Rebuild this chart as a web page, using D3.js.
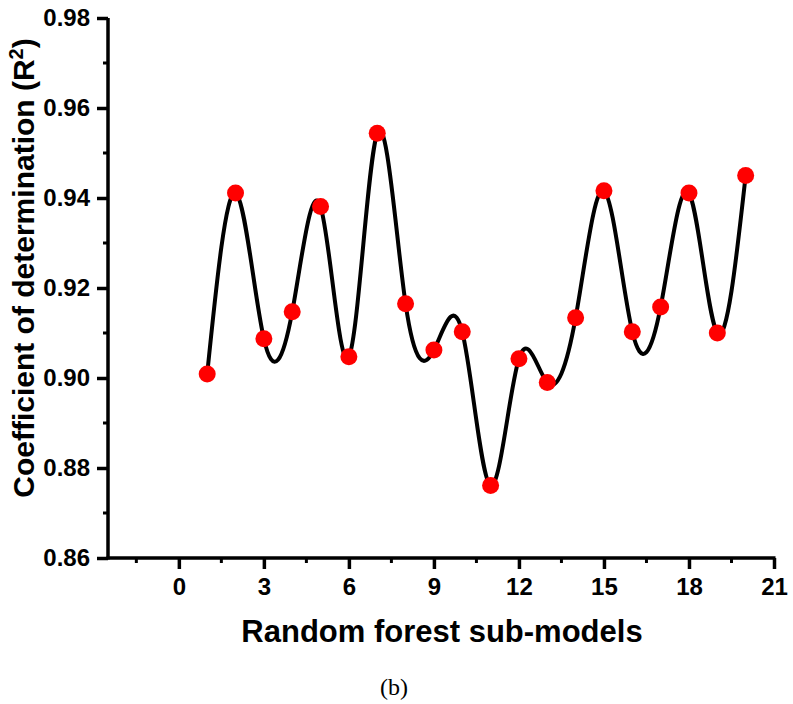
<!DOCTYPE html>
<html>
<head>
<meta charset="utf-8">
<script src="https://cdn.jsdelivr.net/npm/d3@7"></script>
<style>
  html, body { margin: 0; padding: 0; background: #fff; }
  svg { display: block; }
</style>
</head>
<body>
<svg id="chart" width="793" height="704"></svg>
<script>
// ---- data ----
const subModels = [1,2,3,4,5,6,7,8,9,10,11,12,13,14,15,16,17,18,19,20];
const r2Values = [0.9009,0.9411,0.9087,0.9147,0.9381,0.9047,0.9544,0.9165,0.9062,0.9103,
                  0.8761,0.9043,0.8990,0.9134,0.9416,0.9103,0.9158,0.9411,0.9100,0.9450];
const xTicks = [0,3,6,9,12,15,18,21];
const xMinorTicks = [-1.5,1.5,4.5,7.5,10.5,13.5,16.5,19.5];
const yTicks = [0.86,0.88,0.90,0.92,0.94,0.96,0.98];
const yMinorTicks = [0.87,0.89,0.91,0.93,0.95,0.97];
const xTitle = "Random forest sub-models";
const yTitle = "Coefficient of determination (R";
const caption = "(b)";

// ---- layout ----
const svg = d3.select("#chart");
const pLeft = 108, pRight = 774, pTop = 18, pBottom = 558;
const x = d3.scaleLinear().domain([-2.5, 21]).range([pLeft, pRight]);
const y = d3.scaleLinear().domain([0.86, 0.98]).range([pBottom, pTop]);
const font = "'Liberation Sans', Arial, sans-serif";

// x axis
const xAxis = svg.append("g").attr("transform", `translate(0,${pBottom})`);
xAxis.call(d3.axisBottom(x).tickValues(xTicks).tickFormat(d3.format("d")).tickSizeOuter(0).tickSize(11).tickPadding(9));
xAxis.append("g").selectAll("line").data(xMinorTicks).join("line")
  .attr("x1", d => x(d)).attr("x2", d => x(d)).attr("y1", 0).attr("y2", 5)
  .attr("stroke", "#000").attr("stroke-width", 3);

// y axis
const yAxis = svg.append("g").attr("transform", `translate(${pLeft},0)`);
yAxis.call(d3.axisLeft(y).tickValues(yTicks).tickFormat(d3.format(".2f")).tickSizeOuter(0).tickSize(11).tickPadding(7));
yAxis.append("g").selectAll("line").data(yMinorTicks).join("line")
  .attr("y1", d => y(d)).attr("y2", d => y(d)).attr("x1", 0).attr("x2", -5)
  .attr("stroke", "#000").attr("stroke-width", 3);

// style axes
svg.selectAll(".domain").attr("stroke", "#000").attr("stroke-width", 3.5);
svg.selectAll(".tick line").attr("stroke", "#000").attr("stroke-width", 3.5);
svg.selectAll(".tick text").attr("fill", "#000").style("font-family", font)
  .style("font-size", "24px").style("font-weight", "bold");
xAxis.select(".domain").attr("d", `M${pLeft - 1.5},0H${pRight + 1.5}`);
yAxis.select(".domain").attr("d", `M0,${pTop}V${pBottom + 1.5}`);

// smooth curve
const line = d3.line()
  .x((d, i) => x(subModels[i]))
  .y(d => y(d))
  .curve(d3.curveNatural);
svg.append("path").datum(r2Values)
  .attr("d", line).attr("fill", "none")
  .attr("stroke", "#000").attr("stroke-width", 4);

// points
svg.append("g").selectAll("circle").data(r2Values).join("circle")
  .attr("cx", (d, i) => x(subModels[i])).attr("cy", d => y(d))
  .attr("r", 8.5).attr("fill", "#ff0000");

// titles
svg.append("text").attr("x", 442).attr("y", 642)
  .attr("text-anchor", "middle").style("font-family", font)
  .style("font-size", "31px").style("font-weight", "bold").text(xTitle);

const yt = svg.append("text")
  .attr("transform", `translate(34,268) rotate(-90)`)
  .attr("text-anchor", "middle").style("font-family", font)
  .style("font-size", "30px").style("font-weight", "bold");
yt.append("tspan").text(yTitle);
yt.append("tspan").attr("dy", -11).style("font-size", "20px").text("2");
yt.append("tspan").attr("dy", 11).text(")");

svg.append("text").attr("x", 394).attr("y", 695)
  .attr("text-anchor", "middle").style("font-family", "'Liberation Serif', 'Times New Roman', serif")
  .style("font-size", "24px").text(caption);
</script>
</body>
</html>
